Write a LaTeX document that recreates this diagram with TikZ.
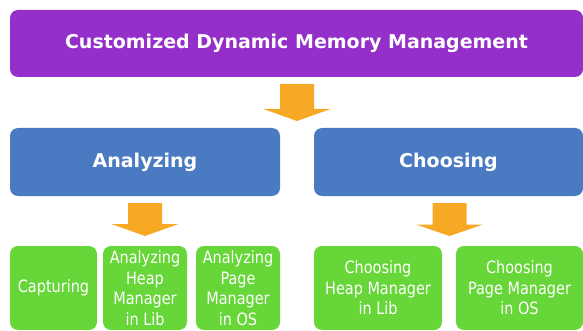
\documentclass[tikz,border=0pt]{standalone}
\usepackage{fontspec}
\setmainfont{DejaVu Sans}
\newfontfamily\leaffont{DejaVu Sans}[FakeStretch=0.85]
\definecolor{rootfill}{HTML}{9430C9}
\definecolor{stagefill}{HTML}{4A7AC2}
\definecolor{leaffill}{HTML}{67D638}
\definecolor{flowarrow}{HTML}{F7A825}
\tikzset{
  panel/.style={rounded corners=8pt, inner sep=0pt, text=white, align=center},
  rootbox/.style={panel, fill=rootfill, font=\fontsize{19}{22}\selectfont\bfseries},
  stagebox/.style={panel, fill=stagefill, font=\fontsize{19}{22}\selectfont\bfseries},
  leafbox/.style={panel, fill=leaffill, font=\leaffont\fontsize{17}{20.5}\selectfont},
  flow/.style={fill=flowarrow}
}
% downward block arrow: #1 = centre x, #2 = top y, #3 = head base y, #4 = tip y
\newcommand\blockarrow[4]{%
  \fill[flow] (#1-17,#2) -- (#1+17,#2) -- (#1+17,#3) -- (#1+33.5,#3)
    -- (#1,#4) -- (#1-33.5,#3) -- (#1-17,#3) -- cycle;}
\begin{document}
\begin{tikzpicture}[x=1pt,y=-1pt]
\useasboundingbox (0,0) rectangle (583,331);
\fill[white] (0,0) rectangle (583,331);

% root
\node[rootbox, minimum width=573pt, minimum height=67pt] (root) at (296.5,43.5)
  {Customized Dynamic Memory Management};

% stages
\node[stagebox, minimum width=270pt, minimum height=68pt] (analyze) at (145,162) {Analyzing};
\node[stagebox, minimum width=269pt, minimum height=68pt] (choose) at (448.5,162) {Choosing};

% leaves
\node[leafbox, minimum width=87pt, minimum height=84pt] (capture) at (53.5,288) {Capturing};
\node[leafbox, minimum width=84pt, minimum height=84pt] (aheap) at (145,288)
  {Analyzing\\Heap\\Manager\\in Lib};
\node[leafbox, minimum width=84pt, minimum height=84pt] (apage) at (238,288)
  {Analyzing\\Page\\Manager\\in OS};
\node[leafbox, minimum width=128pt, minimum height=84pt] (cheap) at (378,288)
  {Choosing\\Heap Manager\\in Lib};
\node[leafbox, minimum width=127pt, minimum height=84pt] (cpage) at (519.5,288)
  {Choosing\\Page Manager\\in OS};

% flow arrows
\blockarrow{297}{84}{109}{121}
\blockarrow{145}{203}{224}{236}
\blockarrow{449.5}{203}{224.5}{236}
\end{tikzpicture}
\end{document}
